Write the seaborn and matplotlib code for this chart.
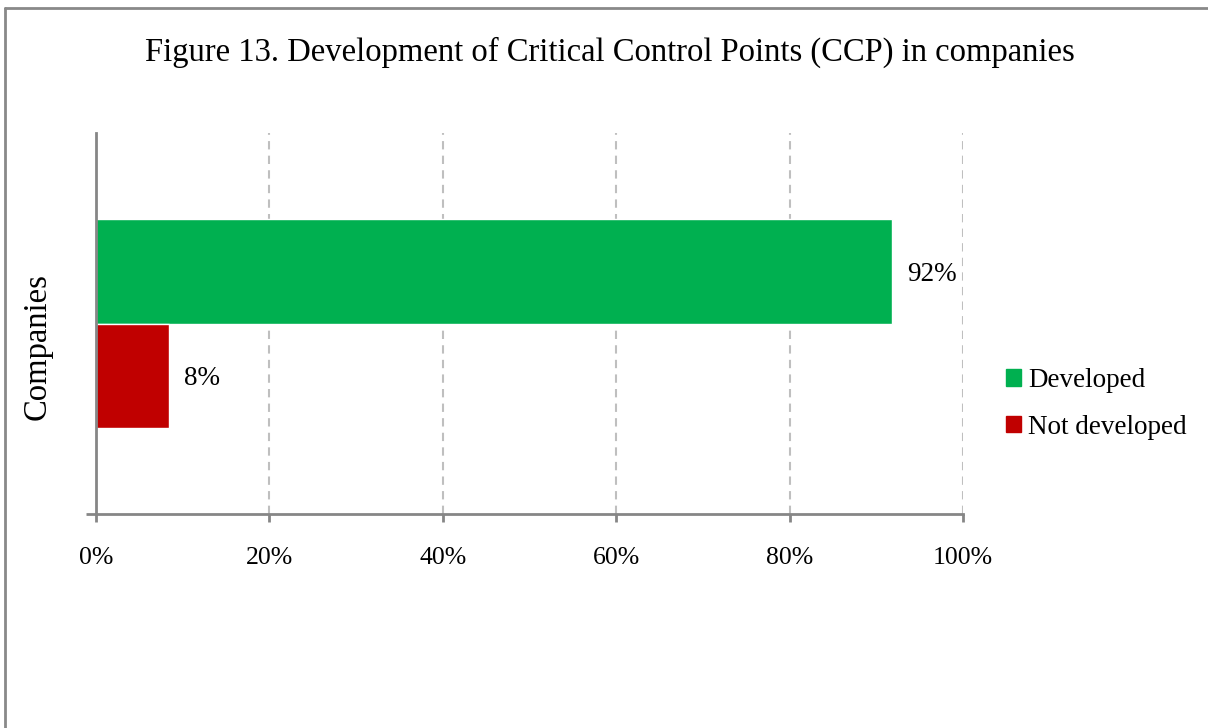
import matplotlib
matplotlib.use("Agg")
import matplotlib.pyplot as plt
from matplotlib.lines import Line2D
from matplotlib.ticker import FuncFormatter
import seaborn as sns
import pandas as pd

title = "Figure 13. Development of Critical Control Points (CCP) in companies"
category = ["Companies"]
series = ["Developed", "Not developed"]
values = [91.8, 8.4]
labels = ["92%", "8%"]
colors = ["#00B050", "#C00000"]
xticks = [0, 20, 40, 60, 80, 100]

sns.set_theme(style="white")
plt.rcParams["font.family"] = ["Liberation Serif", "DejaVu Serif"]
plt.rcParams["text.color"] = "black"

df = pd.DataFrame({"cat": category * len(series), "series": series, "value": values})

fig = plt.figure(figsize=(12.08, 7.28), dpi=100)
W, H = 1208, 728
ax = fig.add_axes([96 / W, 1 - 514 / H, (963 - 96) / W, (514 - 133) / H])

sns.barplot(data=df, y="cat", x="value", hue="series", hue_order=series,
            palette=colors, orient="h", width=0.546, saturation=1,
            gap=0, ax=ax, legend=False)

ax.set_xlim(0, 100)
ax.set_ylim(0.5, -0.5)
ax.set_xticks(xticks)
ax.xaxis.set_major_formatter(FuncFormatter(lambda v, p: f"{v:.0f}%"))
ax.tick_params(axis="x", bottom=True, labelsize=18.5, colors="#868686", length=6,
               width=2, direction="out", pad=18, labelcolor="black")
ax.set_yticks([0.5])
ax.set_yticklabels([""])
ax.tick_params(axis="y", left=True, colors="#868686", length=7, width=2, direction="out")
ax.set_xlabel("")
ax.set_ylabel("")
for v in xticks[1:]:
    ax.axvline(v, color="#BFBFBF", lw=1.5, ls=(0, (4, 3)), zorder=0)
for s in ["top", "right"]:
    ax.spines[s].set_visible(False)
for s in ["left", "bottom"]:
    ax.spines[s].set_color("#868686")
    ax.spines[s].set_linewidth(2)
    ax.spines[s].set_zorder(3)

for patch, lab in zip(ax.patches, labels):
    x = patch.get_x() + patch.get_width()
    y = patch.get_y() + patch.get_height() / 2
    ax.annotate(lab, (x, y), xytext=(11, -2), textcoords="offset points",
                va="center", ha="left", fontsize=19.5, color="black")

fig.text(37 / W, 1 - 347 / H, "Companies", rotation=90, ha="center", va="center",
         fontsize=23.5, color="black")
fig.text(610 / W, 1 - 52 / H, title, ha="center", va="center", fontsize=23.5,
         color="black")

handles = [plt.Rectangle((0, 0), 1, 1, color=c) for c in colors]
leg = fig.legend(handles, series, loc="center left", bbox_to_anchor=(1006 / W, 1 - 404 / H),
                 frameon=False, fontsize=19.5, handlelength=0.55, handleheight=0.55,
                 handletextpad=0.28, labelspacing=0.8, borderaxespad=0, borderpad=0)
for t in leg.get_texts():
    t.set_color("black")

fig.add_artist(Line2D([5 / W, 1], [1 - 8 / H, 1 - 8 / H], transform=fig.transFigure,
                      color="#898989", lw=2))
fig.add_artist(Line2D([5 / W, 5 / W], [0, 1 - 8 / H], transform=fig.transFigure,
                      color="#898989", lw=2))

fig.savefig("out.png", dpi=100)
